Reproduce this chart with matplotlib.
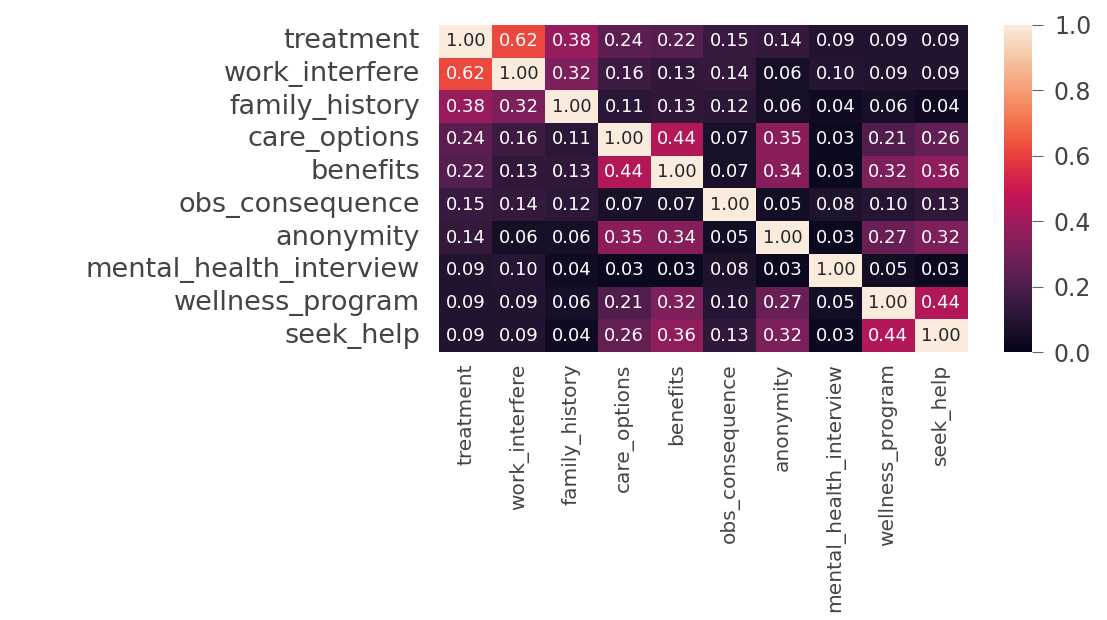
import numpy as np
import pandas as pd
import seaborn as sns
from matplotlib import pyplot as plt

# feature names (rows and columns)
features = ['treatment', 'work_interfere', 'family_history', 'care_options',
            'benefits', 'obs_consequence', 'anonymity',
            'mental_health_interview', 'wellness_program', 'seek_help']

# correlation matrix
corr_values = [
    [1.00, 0.62, 0.38, 0.24, 0.22, 0.15, 0.14, 0.09, 0.09, 0.09],
    [0.62, 1.00, 0.32, 0.16, 0.13, 0.14, 0.06, 0.10, 0.09, 0.09],
    [0.38, 0.32, 1.00, 0.11, 0.13, 0.12, 0.06, 0.04, 0.06, 0.04],
    [0.24, 0.16, 0.11, 1.00, 0.44, 0.07, 0.35, 0.03, 0.21, 0.26],
    [0.22, 0.13, 0.13, 0.44, 1.00, 0.07, 0.34, 0.03, 0.32, 0.36],
    [0.15, 0.14, 0.12, 0.07, 0.07, 1.00, 0.05, 0.08, 0.10, 0.13],
    [0.14, 0.06, 0.06, 0.35, 0.34, 0.05, 1.00, 0.03, 0.27, 0.32],
    [0.09, 0.10, 0.04, 0.03, 0.03, 0.08, 0.03, 1.00, 0.05, 0.03],
    [0.09, 0.09, 0.06, 0.21, 0.32, 0.10, 0.27, 0.05, 1.00, 0.44],
    [0.09, 0.09, 0.04, 0.26, 0.36, 0.13, 0.32, 0.03, 0.44, 1.00],
]

corr = pd.DataFrame(corr_values, index=features, columns=features)

fig = plt.figure(figsize=(11.07, 6.2), dpi=100)
ax = fig.add_axes([0.397, 0.432, 0.477, 0.528])
cax = fig.add_axes([0.907, 0.432, 0.025, 0.528])

sns.heatmap(corr, ax=ax, cbar_ax=cax, annot=True, fmt='.2f', vmin=0, vmax=1,
            annot_kws={'size': 13})

ax.tick_params(axis='y', labelsize=19.5, length=0, pad=14)
ax.tick_params(axis='x', labelsize=14.5, length=0, pad=8)
plt.setp(ax.get_yticklabels(), rotation=0, color='#444444')
plt.setp(ax.get_xticklabels(), rotation=90, color='#444444')

cax.tick_params(labelsize=17, labelcolor='#444444', length=8, pad=8,
                color='#666666')
cax.set_yticks([0.0, 0.2, 0.4, 0.6, 0.8, 1.0])

fig.savefig('out.png', dpi=100)
